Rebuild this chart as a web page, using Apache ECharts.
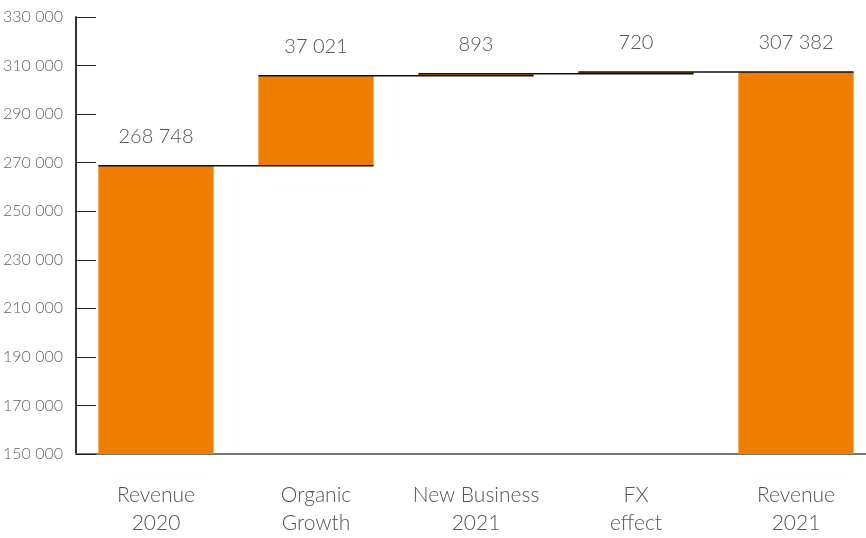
<!DOCTYPE html>
<html>
<head>
<meta charset="utf-8">
<script src="https://cdn.jsdelivr.net/npm/echarts@6/dist/echarts.min.js"></script>
<style>
  html, body { margin: 0; padding: 0; background: #fff; }
  #chart { width: 866px; height: 538px; }
</style>
</head>
<body>
<div id="chart"></div>
<script>
// Revenue bridge 2020 -> 2021
const categories = ['Revenue\n2020', 'Organic\nGrowth', 'New Business\n2021', 'FX\neffect', 'Revenue\n2021'];
const amounts = [268748, 37021, 893, 720, 307382];
const isTotal = [true, false, false, false, true];
const yTicks = { min: 150000, max: 330000, step: 20000 };

// invisible base under each step bar, and the running level after each bar
const bases = [];
const levels = [];
let running = 0;
amounts.forEach((v, i) => {
  if (isTotal[i]) { bases.push(0); running = v; }
  else { bases.push(running); running += v; }
  levels.push(running);
});

const fmt = v => String(v).replace(/\B(?=(\d{3})+(?!\d))/g, ' ');
const FONT = 'Lato';
const ORANGE = '#EF7D00';
const BAR_RATIO = 0.72;

const chart = echarts.init(document.getElementById('chart'), null, { renderer: 'canvas' });
chart.setOption({
  animation: false,
  grid: { left: 76, top: 17, width: 800, height: 437, outerBoundsMode: 'none', containLabel: false },
  xAxis: {
    type: 'category',
    data: categories,
    axisLine: { lineStyle: { color: '#777', width: 2 } },
    axisTick: { inside: true, length: 10, interval: 0, lineStyle: { color: '#222', width: 1 } },
    axisLabel: {
      interval: 0, hideOverlap: false,
      margin: 27, color: '#555', fontFamily: FONT, fontWeight: 300,
      fontSize: 21, lineHeight: 28
    }
  },
  yAxis: {
    type: 'value',
    min: yTicks.min, max: yTicks.max, interval: yTicks.step,
    axisLine: { show: true, lineStyle: { color: '#333', width: 2 } },
    axisTick: { show: true, inside: true, length: 20, lineStyle: { color: '#222', width: 1 } },
    splitLine: { show: false },
    axisLabel: {
      margin: 13, color: '#666', fontFamily: FONT, fontWeight: 300, fontSize: 16,
      formatter: v => fmt(v)
    }
  },
  series: [
    {
      type: 'bar', stack: 'bridge', barWidth: (BAR_RATIO * 100) + '%',
      itemStyle: { color: 'transparent' },
      data: bases, silent: true
    },
    {
      type: 'bar', stack: 'bridge', barWidth: (BAR_RATIO * 100) + '%',
      itemStyle: { color: ORANGE },
      data: amounts,
      label: {
        show: true, position: 'top', distance: 19,
        color: '#555', fontFamily: FONT, fontWeight: 300, fontSize: 20,
        formatter: p => fmt(p.value)
      }
    },
    {
      // connector from each bar's left edge to the next bar's right edge
      type: 'custom',
      z: 5,
      data: levels.slice(0, -1).map((lv, i) => [i, lv]),
      renderItem: (params, api) => {
        const i = api.value(0);
        const lv = api.value(1);
        const p0 = api.coord([i, lv]);
        const p1 = api.coord([i + 1, lv]);
        const bw = api.size([1, 0])[0] * BAR_RATIO;
        return {
          type: 'line',
          shape: { x1: p0[0] - bw / 2, y1: p0[1], x2: p1[0] + bw / 2, y2: p1[1] },
          style: { stroke: '#111', lineWidth: 1.5 }
        };
      }
    }
  ]
});
</script>
</body>
</html>
